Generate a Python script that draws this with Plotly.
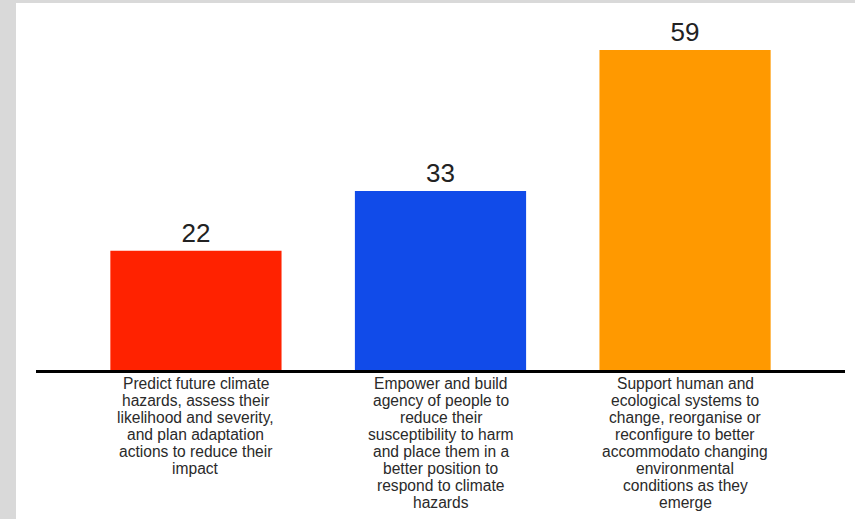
import plotly.graph_objects as go

categories = [
    "Predict future climate<br>hazards, assess their<br>likelihood and severity,<br>and plan adaptation<br>actions to reduce their<br>impact",
    "Empower and build<br>agency of people to<br>reduce their<br>susceptibility to harm<br>and place them in a<br>better position to<br>respond to climate<br>hazards",
    "Support human and<br>ecological systems to<br>change, reorganise or<br>reconfigure to better<br>accommodato changing<br>environmental<br>conditions as they<br>emerge",
]
values = [22, 33, 59]
colors = ["#FF2200", "#114BE9", "#FF9900"]

W, H = 855, 519
L, R, T, B = 36, 10, 20, 149
pw = W - L - R
ph = H - T - B
FONT = "Liberation Sans, Arial, sans-serif"

xs = list(range(len(categories)))

fig = go.Figure(go.Bar(
    x=xs, y=values,
    marker=dict(color=colors, line=dict(width=0)),
    width=0.7,
    text=[str(v) for v in values],
    textposition="outside",
    textfont=dict(size=26, color="#222222", family=FONT),
    cliponaxis=False,
    hoverinfo="skip",
))

# category labels, line by line (tighter line spacing than tick labels allow)
annotations = []
for xi, label in zip(xs, categories):
    for i, line in enumerate(label.split("<br>")):
        annotations.append(dict(
            x=xi, xref="x", y=0, yref="y",
            text=line, showarrow=False,
            xanchor="center", yanchor="middle",
            yshift=-13 - 17.1 * i,
            font=dict(size=15.6, color="#2a2a2a", family=FONT),
        ))

fig.update_layout(
    width=W, height=H,
    margin=dict(l=L, r=R, t=T, b=B),
    paper_bgcolor="white", plot_bgcolor="white",
    showlegend=False,
    font=dict(family=FONT),
    annotations=annotations,
    xaxis=dict(
        range=[-0.654, 2.654],
        tickmode="array", tickvals=xs, showticklabels=False,
        showline=True, linecolor="black", linewidth=3,
        showgrid=False, zeroline=False, ticks="",
        fixedrange=True,
    ),
    yaxis=dict(
        range=[0, ph / 5.424],
        visible=False, showgrid=False, zeroline=False,
    ),
    shapes=[
        dict(type="rect", xref="paper", yref="paper",
             x0=-L / pw, x1=(16 - L) / pw, y0=-B / ph, y1=(ph + T) / ph,
             fillcolor="#D9D9D9", line=dict(width=0), layer="below"),
        dict(type="rect", xref="paper", yref="paper",
             x0=-L / pw, x1=(pw + R) / pw, y0=(ph + T - 3) / ph, y1=(ph + T) / ph,
             fillcolor="#D9D9D9", line=dict(width=0), layer="below"),
    ],
)

fig.write_html(
    "out.html",
    config={"displayModeBar": False},
    post_script="document.body.style.margin='0';document.body.style.overflow='hidden';",
)
